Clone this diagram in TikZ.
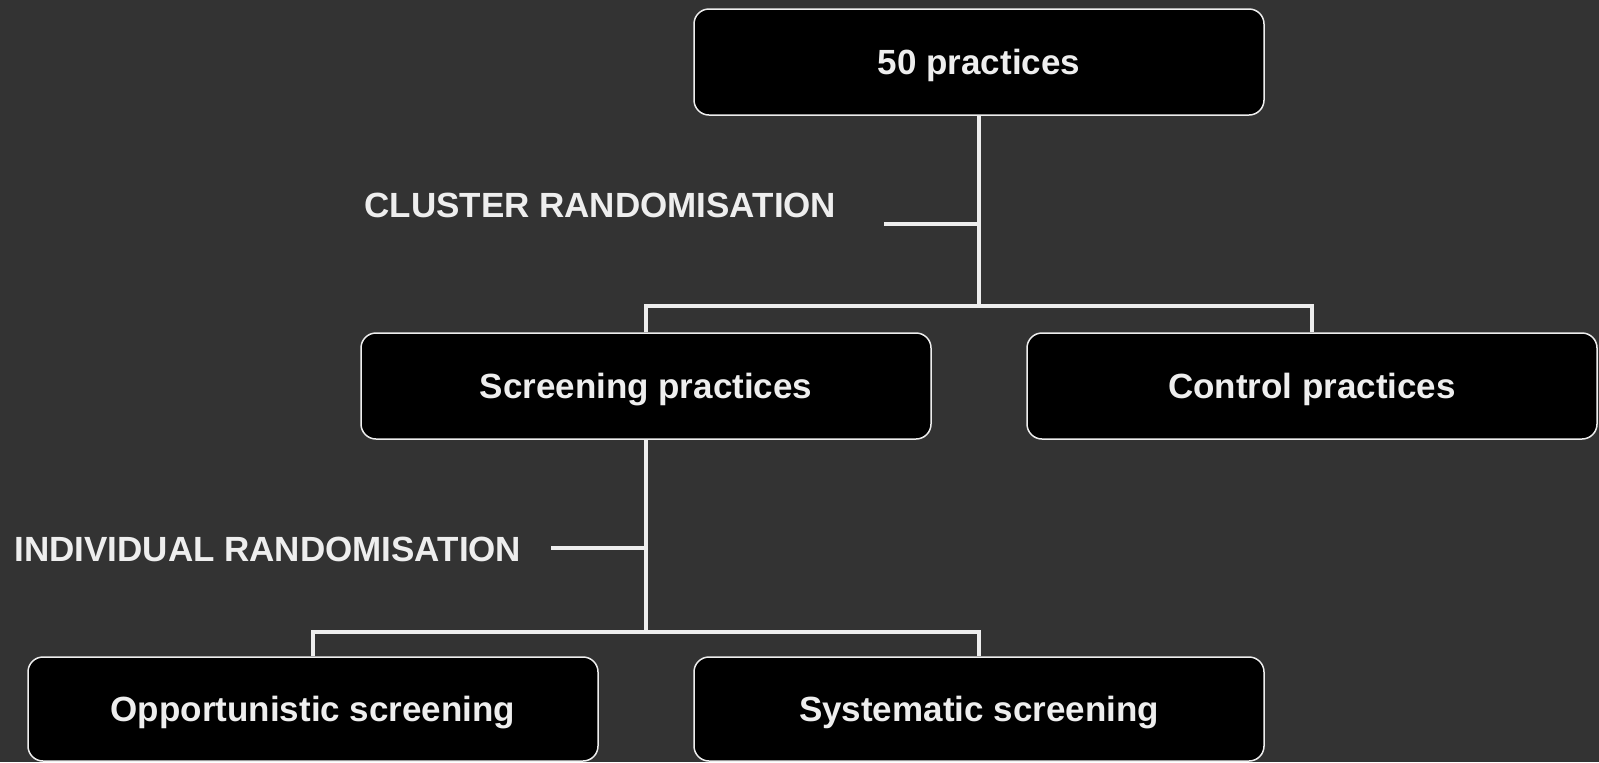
\documentclass[tikz,border=0pt]{standalone}
\usepackage{fontspec}
\setmainfont{Liberation Sans}
\definecolor{bg}{HTML}{333333}
\definecolor{fg}{HTML}{EEEEEE}
\begin{document}
\begin{tikzpicture}[x=0.5pt,y=-0.5pt,
  box/.style={draw=fg, line width=0.75pt, fill=black, rounded corners=7.5pt,
    minimum width=285pt, minimum height=53pt, inner sep=0pt,
    text height=12.5pt, text depth=0pt,
    text=fg, font=\fontsize{17.5}{20}\selectfont\bfseries},
  lbl/.style={text=fg, font=\fontsize{17.5}{20}\selectfont\bfseries, inner sep=0pt},
  conn/.style={draw=fg, line width=2.4pt, line join=miter}]
\fill[bg] (0,0) rectangle (1599,762);
\useasboundingbox (0,0) rectangle (1599,762);
\node[box] (top) at (979,62) {50 practices};
\node[box] (screen) at (646,386) {Screening practices};
\node[box] (control) at (1312,386) {Control practices};
\node[box, minimum height=52pt] (opp) at (313,709) {Opportunistic screening};
\node[box, minimum height=52pt] (sys) at (979,709) {Systematic screening};
\node[lbl, anchor=base west] (cluster) at (364,217) {CLUSTER RANDOMISATION};
\node[lbl, anchor=base west] (indiv) at (14,561) {INDIVIDUAL RANDOMISATION};
\coordinate (j1) at (979,306);
\coordinate (t1) at (884,224);
\coordinate (j2) at (646,632);
\coordinate (t2) at (551,548);
\draw[conn] (top.south) -- (j1);
\draw[conn] (screen.north) |- (j1) -| (control.north);
\draw[conn] (t1) -- (t1 -| top.south);
\draw[conn] (screen.south) -- (j2);
\draw[conn] (opp.north) |- (j2) -| (sys.north);
\draw[conn] (t2) -- (t2 -| screen.south);
\end{tikzpicture}
\end{document}
